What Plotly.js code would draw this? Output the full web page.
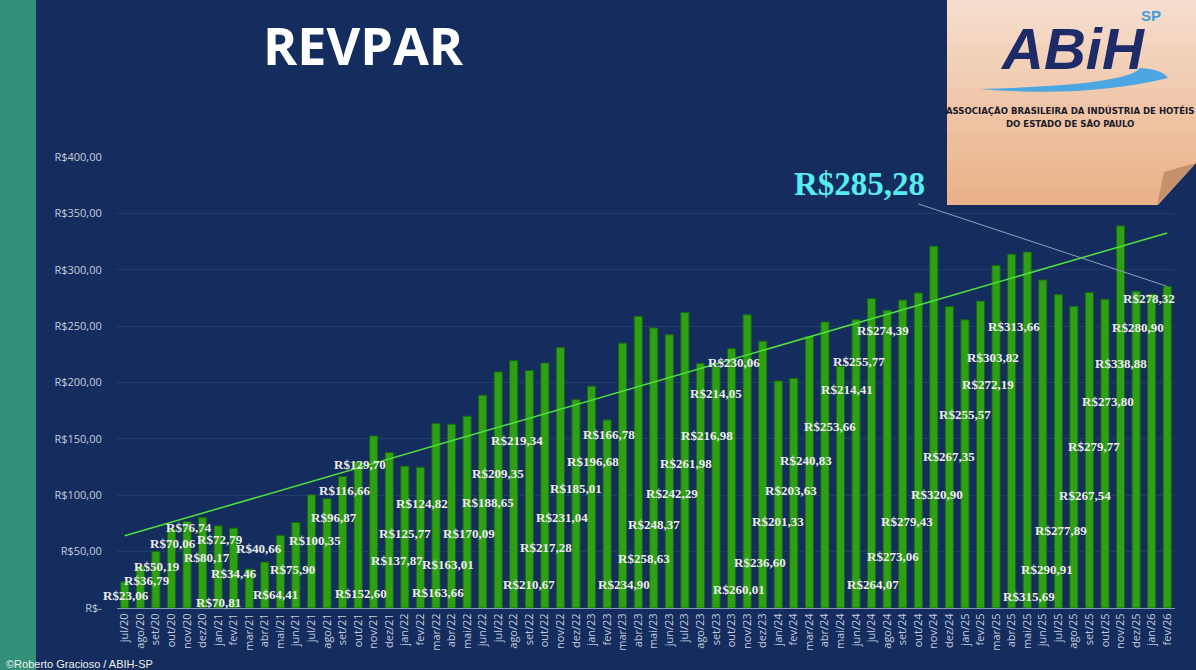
<!DOCTYPE html>
<html>
<head>
<meta charset="utf-8">
<script src="https://cdn.plot.ly/plotly-3.0.1.min.js"></script>
<style>
  html, body { margin: 0; padding: 0; background: #142d5e; }
  #plot { width: 1196px; height: 670px; }
</style>
</head>
<body>
<div id="plot"></div>
<script>
var months = ["jul/20","ago/20","set/20","out/20","nov/20","dez/20",
  "jan/21","fev/21","mar/21","abr/21","mai/21","jun/21","jul/21","ago/21","set/21","out/21","nov/21","dez/21",
  "jan/22","fev/22","mar/22","abr/22","mai/22","jun/22","jul/22","ago/22","set/22","out/22","nov/22","dez/22",
  "jan/23","fev/23","mar/23","abr/23","mai/23","jun/23","jul/23","ago/23","set/23","out/23","nov/23","dez/23",
  "jan/24","fev/24","mar/24","abr/24","mai/24","jun/24","jul/24","ago/24","set/24","out/24","nov/24","dez/24",
  "jan/25","fev/25","mar/25","abr/25","mai/25","jun/25","jul/25","ago/25","set/25","out/25","nov/25","dez/25",
  "jan/26","fev/26"];

var revpar = [23.06,36.79,50.19,70.06,76.74,80.17,
  72.79,70.81,34.46,40.66,64.41,75.90,100.35,96.87,116.66,129.70,152.60,137.87,
  125.77,124.82,163.66,163.01,170.09,188.65,209.35,219.34,210.67,217.28,231.04,185.01,
  196.68,166.78,234.90,258.63,248.37,242.29,261.98,216.98,214.05,230.06,260.01,236.60,
  201.33,203.63,240.83,253.66,214.41,255.77,274.39,264.07,273.06,279.43,320.90,267.35,
  255.57,272.19,303.82,313.66,315.69,290.91,277.89,267.54,279.77,273.80,338.88,280.90,
  278.32,285.28];

// where the value labels sit in the original (value units / category offset)
var labelY = [11.3,24,37,57.6,71.3,45,
  61,4.5,31,52.7,12,34,60,80.7,103.8,127,13.3,41.7,
  66.5,92.6,13.7,38.5,66,94,119,148.7,21,53.6,80.7,106,
  129.5,154,21,43.8,74,101.4,128,153,190,217.6,16.3,40.8,
  76.3,103.8,130.4,161.4,194,219,246.3,21,45.8,76.9,100.8,134.8,
  171.5,198.4,222.6,250,9.8,34,69,100,142.8,183.3,216.7,249.2,
  274.4];
var labelDx = [0.1,0.4,0.1,0.1,0.1,0.3,
  0.1,-1.0,-1.0,-0.4,-0.3,-0.25,0.2,0.45,0.1,0.1,-0.85,0.5,
  0,0.1,0.1,-0.2,0.1,0.35,0,0.2,0,0.1,0.1,0,
  0.1,0.1,0.1,0.4,0,0.2,0.1,0.4,0,0.15,-0.5,-0.2,
  0,-0.15,-0.2,0.3,0.4,0.2,0.75,-0.9,-0.6,-0.7,0.2,0,
  0,0.45,-0.2,0.15,0.1,0.3,0.15,0.7,0.3,0.2,0,0.15,
  -0.15];

var yTicks = [0,50,100,150,200,250,300,350,400];
var yTickText = ["R$-","R$50,00","R$100,00","R$150,00","R$200,00","R$250,00","R$300,00","R$350,00","R$400,00"];

function brl(v){ return "R$" + v.toFixed(2).replace(".", ","); }

// linear trend (least squares over the month index)
var n = revpar.length, sx=0, sy=0, sxy=0, sxx=0;
for (let i=0;i<n;i++){ sx+=i; sy+=revpar[i]; sxy+=i*revpar[i]; sxx+=i*i; }
var slope = (n*sxy - sx*sy)/(n*sxx - sx*sx);
var icpt = (sy - slope*sx)/n;
var trend = revpar.map((v,i) => icpt + slope*i);

// plot area in pixels, to place the slide decorations
var L=117, R=1175, T=157, B=608;
function px(x){ return (x-L)/(R-L); }
function py(y){ return (B-y)/(B-T); }
function pt(x,y){ return px(x).toFixed(5)+","+py(y).toFixed(5); }

var shapes = [];
// teal strip on the left
shapes.push({type:"rect", xref:"paper", yref:"paper", x0:px(0), x1:px(36), y0:py(670), y1:py(0),
  fillcolor:"#33917a", line:{width:0}, layer:"below"});

// logo card, peach gradient in bands
var cardTop = [246,220,204], cardBot = [234,178,136], bands = 14;
for (let k=0;k<bands;k++){
  let f = k/(bands-1);
  let c = cardTop.map((t,j) => Math.round(t + (cardBot[j]-t)*f));
  shapes.push({type:"rect", xref:"paper", yref:"paper",
    x0:px(947), x1:px(1197), y0:py(Math.min(205, 205*(k+1)/bands + 1)), y1:py(205*k/bands - (k==0 ? 1 : 0)),
    fillcolor:"rgb("+c.join(",")+")", line:{width:0}, layer:"above"});
}
// folded corner
shapes.push({type:"path", xref:"paper", yref:"paper", layer:"above",
  path:"M"+pt(1157,206)+" L"+pt(1197,162)+" L"+pt(1197,206)+" Z", fillcolor:"#142d5e", line:{width:0}});
shapes.push({type:"path", xref:"paper", yref:"paper", layer:"above",
  path:"M"+pt(1157,205)+" L"+pt(1164,172)+" L"+pt(1196,163)+" Z", fillcolor:"#c4916c", line:{width:0}});
// blue swoosh of the logo
shapes.push({type:"path", xref:"paper", yref:"paper", layer:"above",
  path:"M"+pt(980,89)+" Q"+pt(1085,98)+" "+pt(1168,78)+" Q"+pt(1162,69)+" "+pt(1140,68)+" Q"+pt(1128,85)+" "+pt(980,89)+" Z",
  fillcolor:"#4ba6e2", line:{width:0}});

var annotations = [];
for (let i=0;i<n-1;i++){
  annotations.push({x:i+labelDx[i], y:labelY[i], xref:"x", yref:"y", text:"<b>"+brl(revpar[i])+"</b>",
    xanchor:"center", yanchor:"middle", showarrow:false,
    font:{family:"Liberation Serif, Times New Roman, serif", size:13, color:"#ececec"}});
}
// highlighted last month
annotations.push({x:n-1, y:revpar[n-1], xref:"x", yref:"y", text:"<b>"+brl(revpar[n-1])+"</b>",
  showarrow:true, arrowhead:0, arrowwidth:1, arrowcolor:"#8e9cb8", ax:-308, ay:-102, standoff:0,
  xanchor:"center", yanchor:"middle",
  font:{family:"Liberation Serif, Times New Roman, serif", size:33, color:"#55eef0"}});

function slideText(x, y, text, font, xa){
  annotations.push({xref:"paper", yref:"paper", x:px(x), y:py(y), text:text, showarrow:false,
    xanchor:xa || "center", yanchor:"middle", font:font});
}
slideText(363, 44, "<b>REVPAR</b>", {family:"Open Sans, sans-serif", size:52, color:"#ffffff"});
slideText(4, 664, "©Roberto Gracioso / ABIH-SP", {family:"Liberation Sans, Arial, sans-serif", size:11, color:"#f0f0f0"}, "left");
slideText(1072, 48, "<b><i>ABiH</i></b>", {family:"Liberation Sans, sans-serif", size:58, color:"#1d2c68"});
slideText(1151, 16, "<b>SP</b>", {family:"Liberation Sans, Arial, sans-serif", size:15, color:"#3f9ee0"});
slideText(1070, 111, "<b>ASSOCIAÇÃO BRASILEIRA DA INDÚSTRIA DE HOTÉIS</b>",
  {family:"DejaVu Sans Condensed, Liberation Sans, sans-serif", size:9.5, color:"#1a1a28"});
slideText(1070, 124, "<b>DO ESTADO DE SÃO PAULO</b>",
  {family:"DejaVu Sans Condensed, Liberation Sans, sans-serif", size:9.5, color:"#1a1a28"});

var bars = {
  type:"bar", x:months, y:revpar,
  marker:{color:"#2fa015", line:{color:"#1a6a0c", width:1}},
  hoverinfo:"x+y"
};
var trendLine = {
  type:"scatter", mode:"lines", x:months, y:trend,
  line:{color:"#4fe23c", width:1.5}, hoverinfo:"skip"
};

var layout = {
  width:1196, height:670,
  margin:{l:L, r:1196-R, t:T, b:670-B},
  paper_bgcolor:"#142d5e", plot_bgcolor:"#142d5e",
  showlegend:false, bargap:0.48,
  xaxis:{type:"category", range:[-0.5, months.length-0.5], tickangle:-90, showgrid:false,
    showline:true, linecolor:"#8898b8", linewidth:1,
    ticks:"", tickfont:{family:"Open Sans, sans-serif", size:11, color:"#c4ccdc"}, fixedrange:true},
  yaxis:{range:[0,400], tickvals:yTicks, ticktext:yTickText, gridcolor:"#213d70", gridwidth:1,
    zeroline:false, ticks:"outside", ticklen:12, tickcolor:"rgba(0,0,0,0)",
    tickfont:{family:"Open Sans, sans-serif", size:11, color:"#c4ccdc"}, fixedrange:true},
  shapes:shapes, annotations:annotations
};

Plotly.newPlot("plot", [bars, trendLine], layout, {displayModeBar:false, staticPlot:true});
</script>
</body>
</html>
